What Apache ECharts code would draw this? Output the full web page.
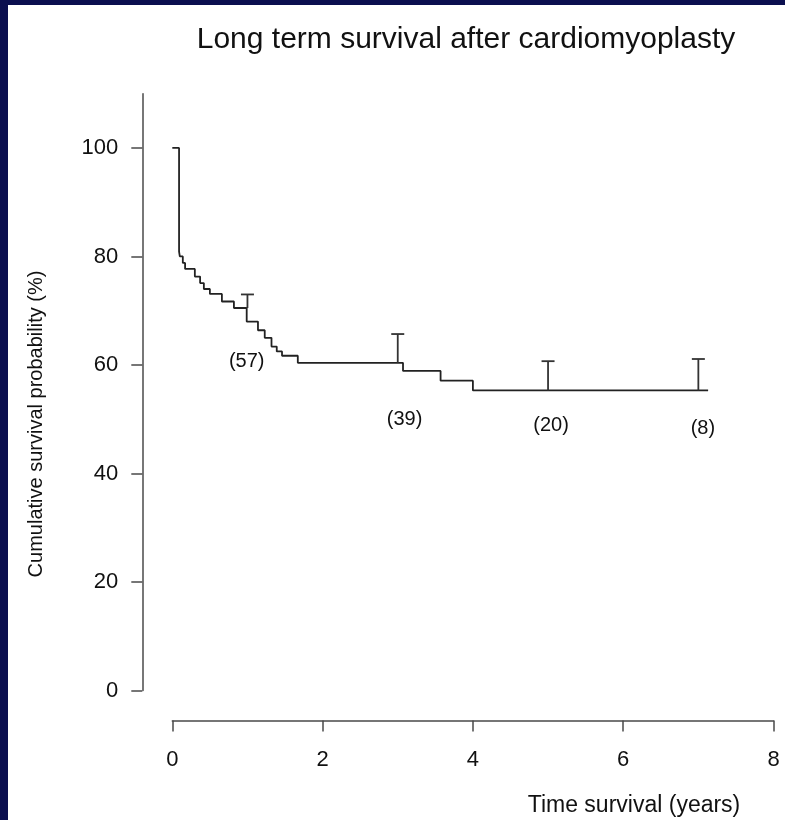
<!DOCTYPE html>
<html>
<head>
<meta charset="utf-8">
<title>Long term survival after cardiomyoplasty</title>
<script src="https://cdn.jsdelivr.net/npm/echarts@6/dist/echarts.min.js"></script>
<style>
  html, body { margin: 0; padding: 0; background: #0b0f4f; }
  #panel { position: absolute; left: 8px; top: 5px; width: 777px; height: 815px; background: #ffffff; }
  #chart { position: absolute; left: 0; top: 0; width: 785px; height: 820px; }
</style>
</head>
<body>
<div id="panel"></div>
<div id="chart"></div>
<script>
// Kaplan-Meier estimate: time (years) at which each step begins, survival (%) after it
const years    = [0, 0.09, 0.10, 0.14, 0.17, 0.30, 0.37, 0.42, 0.50, 0.66, 0.82, 0.99, 1.14, 1.23, 1.32, 1.39, 1.46, 1.67, 3.07, 3.57, 4.00, 7.13];
const survival = [100, 80.9, 80.0, 78.8, 77.7, 76.3, 75.1, 74.0, 73.1, 71.7, 70.5, 68.0, 66.4, 65.0, 63.4, 62.5, 61.7, 60.4, 58.9, 57.1, 55.3, 55.3];

// Upper confidence bars at yearly checkpoints
const barYears = [1, 3, 5, 7];
const barLow   = [70.5, 60.4, 55.3, 55.3];
const barHigh  = [73.0, 65.7, 60.7, 61.1];

// Patients at risk
const riskYears  = [0.99, 3.09, 5.04, 7.06];
const riskLevel  = [60.6, 49.9, 48.9, 48.3];
const riskCounts = [57, 39, 20, 8];

// Axis ticks
const yTicks = [0, 20, 40, 60, 80, 100];
const xTicks = [0, 2, 4, 6, 8];

const FONT = "'Liberation Sans', Arial, Helvetica, sans-serif";
const INK = '#111111';
const AXIS = '#4a4a4a';

const chart = echarts.init(document.getElementById('chart'), null, { renderer: 'canvas' });

chart.setOption({
  backgroundColor: 'transparent',
  animation: false,
  title: [
    {
      text: 'Long term survival after cardiomyoplasty',
      left: 461, top: 20, textAlign: 'center',
      textStyle: { fontFamily: FONT, fontSize: 30, fontWeight: 'normal', color: INK }
    },
    {
      text: 'Time survival (years)',
      left: 629, top: 789, textAlign: 'center',
      textStyle: { fontFamily: FONT, fontSize: 23, fontWeight: 'normal', color: INK }
    }
  ],
  graphic: [
    {
      type: 'text', x: 36, y: 424, rotation: Math.PI / 2,
      style: {
        text: 'Cumulative survival probability (%)',
        font: '20px ' + FONT, fill: INK,
        textAlign: 'center', textVerticalAlign: 'middle'
      }
    }
  ],
  grid: { left: 172.3, right: 11.5, top: 93.7, bottom: 129.5, containLabel: false },
  xAxis: {
    type: 'value', min: 0, max: 8, interval: 2, offset: 30,
    axisLine: { show: true, onZero: false, lineStyle: { color: AXIS, width: 1.5 } },
    axisTick: { show: true, length: 11, inside: false, lineStyle: { color: AXIS, width: 1.5 } },
    axisLabel: {
      show: true, margin: 28, fontFamily: FONT, fontSize: 22, color: INK,
      customValues: xTicks
    },
    splitLine: { show: false }
  },
  yAxis: {
    type: 'value', min: 0, max: 110, offset: 30,
    axisLine: { show: true, onZero: false, lineStyle: { color: AXIS, width: 1.5 } },
    axisTick: { show: true, length: 11, inside: false, customValues: yTicks, lineStyle: { color: AXIS, width: 1.5 } },
    axisLabel: {
      show: true, margin: 24, fontFamily: FONT, fontSize: 22, color: INK,
      customValues: yTicks
    },
    splitLine: { show: false }
  },
  series: [
    {
      name: 'Survival',
      type: 'line',
      step: 'end',
      data: years.map((t, i) => [t, survival[i]]),
      showSymbol: false,
      symbol: 'none',
      lineStyle: { color: '#222222', width: 1.8 },
      z: 3
    },
    {
      name: 'Upper bound',
      type: 'custom',
      data: barYears.map((t, i) => [t, barLow[i], barHigh[i]]),
      renderItem: function (params, api) {
        const lo = api.coord([api.value(0), api.value(1)]);
        const hi = api.coord([api.value(0), api.value(2)]);
        const half = 6.5;
        const style = { stroke: '#333333', lineWidth: 1.8 };
        return {
          type: 'group',
          children: [
            { type: 'line', shape: { x1: lo[0], y1: lo[1], x2: hi[0], y2: hi[1] }, style: style },
            { type: 'line', shape: { x1: hi[0] - half, y1: hi[1], x2: hi[0] + half, y2: hi[1] }, style: style }
          ]
        };
      },
      z: 4
    },
    {
      name: 'At risk',
      type: 'custom',
      data: riskYears.map((t, i) => [t, riskLevel[i], riskCounts[i]]),
      renderItem: function (params, api) {
        const p = api.coord([api.value(0), api.value(1)]);
        return {
          type: 'text',
          x: p[0], y: p[1],
          style: {
            text: '(' + api.value(2) + ')',
            font: '20px ' + FONT, fill: INK,
            textAlign: 'center', textVerticalAlign: 'middle'
          }
        };
      },
      z: 5
    }
  ]
});
</script>
</body>
</html>
